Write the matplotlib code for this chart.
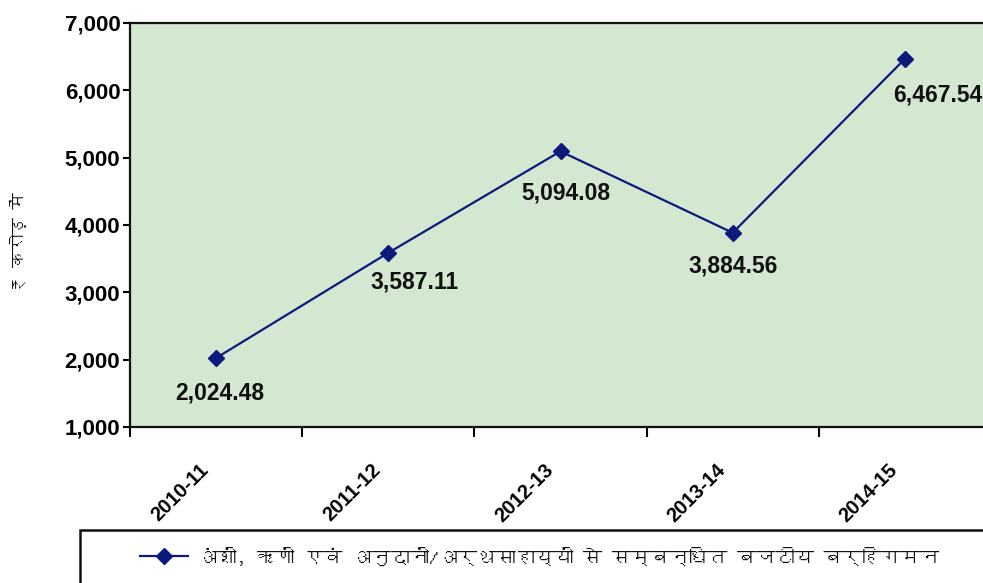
import matplotlib
matplotlib.use('Agg')
import matplotlib.pyplot as plt
from matplotlib import font_manager
from matplotlib.ft2font import FT2Font
from matplotlib.patches import Rectangle
from matplotlib.lines import Line2D
import numpy as np

categories = ['2010-11', '2011-12', '2012-13', '2013-14', '2014-15']
values = [2024.48, 3587.11, 5094.08, 3884.56, 6467.54]
value_labels = ['2,024.48', '3,587.11', '5,094.08', '3,884.56', '6,467.54']
y_ticks = [1000, 2000, 3000, 4000, 5000, 6000, 7000]
y_label = '₹ करोड़ में'
legend_label = 'अंशों, ऋणों एवं अनुदानों/अर्थसाहाय्यों से सम्बन्धित बजटीय बर्हिगमन'
# label offsets (points) relative to each marker
label_offsets = [(3, -25), (19, -21), (4, -30), (0, -24), (24, -26)]


def find_deva():
    seen = set()
    paths = [fe.fname for fe in font_manager.fontManager.ttflist] + font_manager.findSystemFonts()
    for f in paths:
        if f in seen:
            continue
        seen.add(f)
        try:
            ft = FT2Font(f)
            if 0x0915 in ft.get_charmap():
                return font_manager.FontProperties(fname=f).get_name()
        except Exception:
            pass
    return None


deva = find_deva()
hfam = ([deva] if deva else []) + ['DejaVu Sans']
num_font = 'Liberation Sans'

W, H = 983, 583
fig = plt.figure(figsize=(W / 100, H / 100), dpi=100)
fig.patch.set_facecolor('white')

ax_l, ax_r, ax_t, ax_b = 130, 991, 23, 427
ax = fig.add_axes([ax_l / W, 1 - ax_b / H, (ax_r - ax_l) / W, (ax_b - ax_t) / H])
ax.set_facecolor('#d3e7d1')

x = np.arange(len(categories))
navy = '#0c1a7c'
ax.plot(x, values, color=navy, lw=1.6, marker='D', ms=8, mfc=navy, mec=navy, zorder=3)

for xi, v, lab, off in zip(x, values, value_labels, label_offsets):
    ax.annotate(lab, (xi, v), xytext=off, textcoords='offset points',
                ha='center', va='center', fontsize=16.5, fontweight='bold',
                family=num_font, color='#111111', annotation_clip=False)

ax.set_xlim(-0.5, 4.5)
ax.set_ylim(1000, 7000)
ax.set_yticks(y_ticks)
ax.set_yticklabels([f'{t:,}' for t in y_ticks], fontsize=16, fontweight='bold', family=num_font)
ax.tick_params(axis='y', direction='out', length=5, width=1.5, pad=2)

ax.set_xticks(np.arange(-0.5, 5.0, 1.0))
ax.set_xticklabels([])
ax.tick_params(axis='x', which='major', direction='out', length=7, width=1.5)
ax.set_xticks(x - 0.06, minor=True)
ax.set_xticklabels(categories, minor=True, rotation=45, ha='right', va='center',
                   rotation_mode='anchor', fontsize=14.5, fontweight='bold', family=num_font)
ax.tick_params(axis='x', which='minor', length=0, pad=29)

for s in ['left', 'bottom', 'top']:
    ax.spines[s].set_linewidth(1.6)
    ax.spines[s].set_color('#111111')
ax.spines['right'].set_visible(False)

fig.text(18 / W, 1 - 242 / H, y_label, rotation=90, ha='center', va='center',
         fontsize=12, family=hfam, color='#111111')

# legend box
fig.patches.append(Rectangle((80 / W, -0.05), 1.0, (583 - 530) / H + 0.05,
                             transform=fig.transFigure, facecolor='white',
                             edgecolor='#111111', lw=1.8))
fig.lines.append(Line2D([140 / W, 188 / W], [1 - 556 / H] * 2, transform=fig.transFigure,
                        color=navy, lw=1.6))
fig.lines.append(Line2D([164 / W], [1 - 556 / H], transform=fig.transFigure,
                        color=navy, marker='D', ms=8, mfc=navy, mec=navy))
leg_txt = fig.text(198 / W, 1 - 556 / H, legend_label, ha='left', va='center', fontsize=15,
                   family=hfam, color='#111111')

# fit the legend text into the width the reference uses (~742 px)
renderer = fig.canvas.get_renderer()
w = leg_txt.get_window_extent(renderer).width
target = 742
if w > 0:
    leg_txt.set_fontsize(min(16, 15 * target / w))

fig.savefig('out.png', dpi=100)
